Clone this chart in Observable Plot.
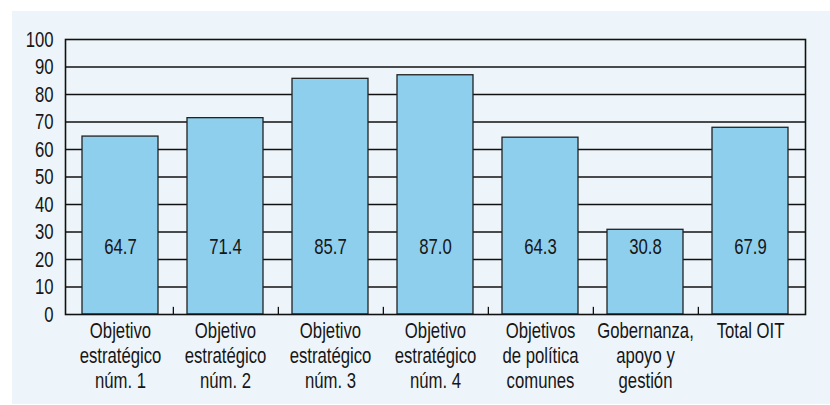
<!DOCTYPE html>
<html><head><meta charset="utf-8">
<script src="https://cdn.jsdelivr.net/npm/d3@7"></script>
<script src="https://cdn.jsdelivr.net/npm/@observablehq/plot@0.6"></script>
<style>
body{margin:0;background:#fff;}
#wrap{position:relative;width:830px;height:405px;overflow:hidden;}
#panel{position:absolute;left:12px;top:11px;right:0;bottom:1px;background:#eef5fa;}
#chart{position:absolute;left:0;top:0;}
</style></head><body>
<div id="wrap"><div id="panel"></div><div id="chart"></div></div>
<script>
const categories = [
  "Objetivo\nestratégico\nnúm. 1",
  "Objetivo\nestratégico\nnúm. 2",
  "Objetivo\nestratégico\nnúm. 3",
  "Objetivo\nestratégico\nnúm. 4",
  "Objetivos\nde política\ncomunes",
  "Gobernanza,\napoyo y\ngestión",
  "Total OIT"
];
const values = [64.7, 71.4, 85.7, 87.0, 64.3, 30.8, 67.9];
const yTicks = [0, 10, 20, 30, 40, 50, 60, 70, 80, 90, 100];
const gridLines = [10, 20, 30, 40, 50, 60, 70, 80, 90];
const labelY = 24.5;

const data = categories.map((c, i) => ({cat: c, value: values[i]}));

const W = 830, H = 405, mL = 65, mR = 25, mT = 39, mB = 91;
const pInner = 0.28, pOuter = 0.14;
const step = (W - mL - mR) / (categories.length - pInner + 2 * pOuter);

const font = "'Liberation Sans', Arial, sans-serif";
const fs = 22, squeeze = 0.76;

const chart = Plot.plot({
  width: W, height: H,
  marginLeft: mL, marginRight: mR, marginTop: mT, marginBottom: mB,
  style: {background: "transparent", fontFamily: font, fontSize: fs + "px", color: "#161616"},
  x: {domain: categories, paddingInner: pInner, paddingOuter: pOuter, label: null},
  y: {domain: [0, 100], label: null},
  marks: [
    Plot.ruleY(gridLines, {stroke: "#111", strokeWidth: 1.3}),
    Plot.barY(data, {x: "cat", y: "value", fill: "#8ecfed", stroke: "#222", strokeWidth: 1.3}),
    Plot.text(data, {x: "cat", y: () => labelY, text: d => d.value.toFixed(1), fontSize: fs, fill: "#161616"}),
    Plot.ruleX(categories.slice(0, -1), {x: d => d, y1: 0, y2: 2.6, dx: step / 2, stroke: "#111", strokeWidth: 1.3}),
    Plot.frame({stroke: "#111", strokeWidth: 1.6}),
    Plot.axisY({ticks: yTicks, tickSize: 0, tickPadding: 12, fontSize: fs, label: null}),
    Plot.axisX({tickSize: 0, tickPadding: 6, fontSize: fs, lineHeight: 25 / fs, label: null})
  ]
});
// condense the glyphs horizontally (narrow face not installed)
chart.querySelectorAll("text").forEach(t => {
  const tr = t.getAttribute("transform");
  if (tr) t.setAttribute("transform", tr + ` scale(${squeeze},1)`);
  else {
    const x = +t.getAttribute("x") || 0, y = +t.getAttribute("y") || 0;
    t.setAttribute("transform", `translate(${x},${y}) scale(${squeeze},1) translate(${-x},${-y})`);
  }
});
document.getElementById("chart").append(chart);
</script>
</body></html>
